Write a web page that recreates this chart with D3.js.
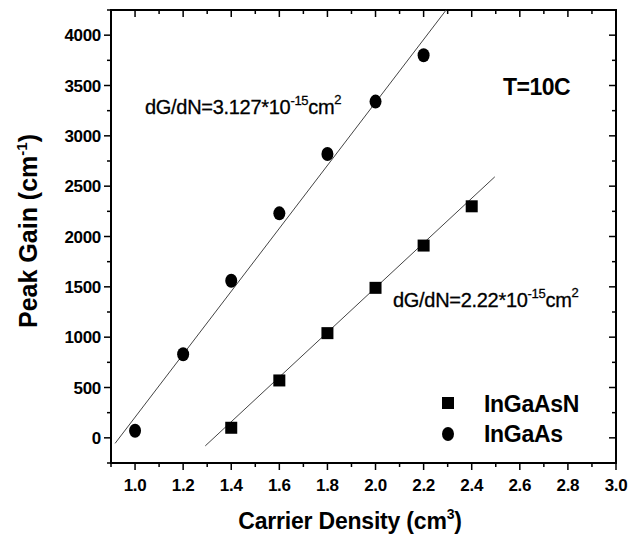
<!DOCTYPE html>
<html>
<head>
<meta charset="utf-8">
<script src="https://cdn.jsdelivr.net/npm/d3@7"></script>
<style>
  body { margin: 0; background: #fff; }
  text { font-family: "Liberation Sans", Arial, sans-serif; }
</style>
</head>
<body>
<script>
// data
const xTicks = [1.0, 1.2, 1.4, 1.6, 1.8, 2.0, 2.2, 2.4, 2.6, 2.8, 3.0];
const yTicks = [0, 500, 1000, 1500, 2000, 2500, 3000, 3500, 4000];
const density = [1.0, 1.2, 1.4, 1.6, 1.8, 2.0, 2.2, 2.4];
const gainInGaAs = [70, 830, 1560, 2230, 2820, 3340, 3800];
const gainInGaAsN = [null, null, 100, 570, 1040, 1490, 1910, 2300];
// linear fits: slope (cm^-1 per 1e18 cm^-3), start point, end x
const fitInGaAs = { slope: 3127, x0: 0.917, y0: -55, x1: 2.294 };
const fitInGaAsN = { slope: 2220, x0: 1.292, y0: -80, x1: 2.496 };

const width = 631, height = 541;
const margin = { left: 111, right: 15, top: 10, bottom: 78 };

const svg = d3.select("body").append("svg")
  .attr("width", width)
  .attr("height", height);

const x = d3.scaleLinear().domain([0.9, 3.0]).range([margin.left, width - margin.right]);
const y = d3.scaleLinear().domain([-250, 4250]).range([height - margin.bottom, margin.top]);

const minorX = d3.range(9, 31).map(d => d / 10);
const minorY = d3.range(-250, 4251, 250);

// frame
svg.append("rect")
  .attr("x", x(0.9)).attr("y", y(4250))
  .attr("width", x(3.0) - x(0.9)).attr("height", y(-250) - y(4250))
  .attr("fill", "none").attr("stroke", "#000").attr("stroke-width", 2);

const ticks = svg.append("g").attr("stroke", "#000").attr("stroke-width", 1.5);
// bottom ticks (outward), top ticks (inward)
minorX.forEach(v => {
  const major = Math.round(v * 10) % 2 === 0;
  const len = major ? 7 : 4;
  ticks.append("line").attr("x1", x(v)).attr("x2", x(v))
    .attr("y1", y(-250)).attr("y2", y(-250) + len);
  ticks.append("line").attr("x1", x(v)).attr("x2", x(v))
    .attr("y1", y(4250)).attr("y2", y(4250) + len);
});
// left ticks (outward), right ticks (inward)
minorY.forEach(v => {
  const major = v % 500 === 0;
  const len = major ? 7 : 4;
  ticks.append("line").attr("y1", y(v)).attr("y2", y(v))
    .attr("x1", x(0.9)).attr("x2", x(0.9) - len);
  ticks.append("line").attr("y1", y(v)).attr("y2", y(v))
    .attr("x1", x(3.0)).attr("x2", x(3.0) - len);
});

svg.append("g").selectAll("text")
  .data(xTicks)
  .join("text")
    .attr("x", d => x(d))
    .attr("y", y(-250) + 28)
    .attr("text-anchor", "middle")
    .attr("font-size", 17)
    .attr("font-weight", "bold")
    .attr("letter-spacing", -0.3)
    .text(d => d3.format(".1f")(d));

svg.append("g").selectAll("text")
  .data(yTicks)
  .join("text")
    .attr("x", x(0.9) - 10)
    .attr("y", d => y(d))
    .attr("dy", "0.36em")
    .attr("text-anchor", "end")
    .attr("font-size", 17)
    .attr("font-weight", "bold")
    .attr("letter-spacing", -0.3)
    .text(d => d);

// axis titles
const yl = svg.append("text")
  .attr("transform", `translate(37, 231) rotate(-90)`)
  .attr("text-anchor", "middle")
  .attr("font-size", 25)
  .attr("font-weight", "bold");
yl.append("tspan").text("Peak Gain (cm");
yl.append("tspan").attr("dy", -10).attr("font-size", 15).text("-1");
yl.append("tspan").attr("dy", 10).text(")");

const xl = svg.append("text")
  .attr("x", 350)
  .attr("y", 529)
  .attr("text-anchor", "middle")
  .attr("font-size", 23)
  .attr("font-weight", "bold")
  .attr("letter-spacing", -0.2);
xl.append("tspan").text("Carrier Density (cm");
xl.append("tspan").attr("dy", -10).attr("font-size", 14).text("3");
xl.append("tspan").attr("dy", 10).text(")");

// fit lines
const line = d3.line().x(d => x(d[0])).y(d => y(d[1]));
[fitInGaAs, fitInGaAsN].forEach(f => {
  const pts = [[f.x0, f.y0], [f.x1, f.y0 + f.slope * (f.x1 - f.x0)]];
  svg.append("path")
    .attr("d", line(pts))
    .attr("fill", "none")
    .attr("stroke", "#444")
    .attr("stroke-width", 1);
});

// markers
const pts = svg.append("g");
pts.selectAll("ellipse")
  .data(gainInGaAs.map((g, i) => [density[i], g]))
  .join("ellipse")
    .attr("cx", d => x(d[0]))
    .attr("cy", d => y(d[1]))
    .attr("rx", 6).attr("ry", 7)
    .attr("fill", "#000");
pts.selectAll("rect")
  .data(gainInGaAsN.map((g, i) => [density[i], g]).filter(d => d[1] !== null))
  .join("rect")
    .attr("x", d => x(d[0]) - 6)
    .attr("y", d => y(d[1]) - 6)
    .attr("width", 12).attr("height", 12)
    .attr("fill", "#000");

// annotations
function slopeLabel(px, py, mant) {
  const t = svg.append("text")
    .attr("x", px).attr("y", py)
    .attr("font-size", 20)
    .attr("letter-spacing", -0.3)
    .attr("stroke", "#000").attr("stroke-width", 0.3);
  t.append("tspan").text(`dG/dN=${mant}*10`);
  t.append("tspan").attr("dy", -9).attr("font-size", 13).text("-15");
  t.append("tspan").attr("dy", 9).text("cm");
  t.append("tspan").attr("dy", -10).attr("font-size", 13).text("2");
}
slopeLabel(145, 114, "3.127");
slopeLabel(393, 307, "2.22");

svg.append("text")
  .attr("x", 503).attr("y", 95)
  .attr("font-size", 23)
  .attr("font-weight", "bold")
  .attr("letter-spacing", -0.5)
  .text("T=10C");

// legend
const legend = svg.append("g");
legend.append("rect").attr("x", 442).attr("y", 397).attr("width", 12).attr("height", 12).attr("fill", "#000");
legend.append("ellipse").attr("cx", 448).attr("cy", 434).attr("rx", 6).attr("ry", 7).attr("fill", "#000");
legend.append("text").attr("x", 484).attr("y", 412)
  .attr("font-size", 23).attr("font-weight", "bold").attr("letter-spacing", -0.3).text("InGaAsN");
legend.append("text").attr("x", 484).attr("y", 442)
  .attr("font-size", 23).attr("font-weight", "bold").attr("letter-spacing", -0.3).text("InGaAs");
</script>
</body>
</html>
